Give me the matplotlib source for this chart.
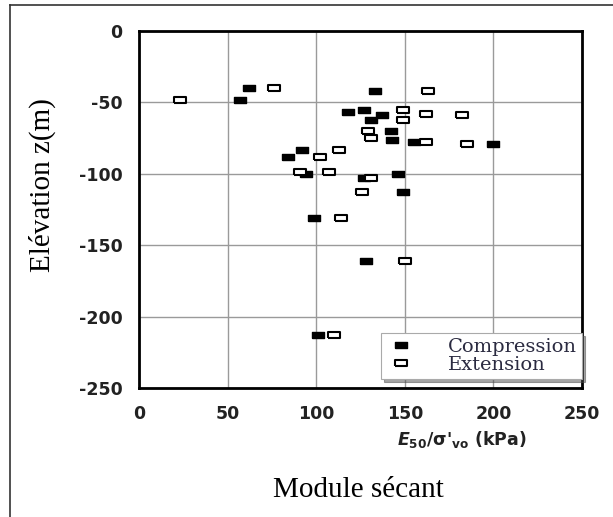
import matplotlib
matplotlib.use("Agg")
import matplotlib.pyplot as plt
from matplotlib.lines import Line2D

# Compression (filled squares)
comp_x = [62, 57, 133, 118, 127, 131, 137, 142, 143, 155, 200, 92, 84, 94, 127, 146, 149, 99, 128, 101]
comp_y = [-40, -48, -42, -57, -55, -62, -59, -70, -76, -78, -79, -83, -88, -100, -103, -100, -113, -131, -161, -213]

# Extension (open squares)
ext_x = [23, 76, 163, 149, 149, 162, 182, 129, 131, 162, 185, 102, 113, 91, 107, 131, 126, 114, 150, 110]
ext_y = [-48, -40, -42, -55, -62, -58, -59, -70, -75, -78, -79, -88, -83, -99, -99, -103, -113, -131, -161, -213]

x_ticks = [0, 50, 100, 150, 200, 250]
y_ticks = [0, -50, -100, -150, -200, -250]

plt.rcParams['axes.unicode_minus'] = False
plt.rcParams['mathtext.fontset'] = 'custom'
plt.rcParams['mathtext.rm'] = 'DejaVu Sans:bold'
plt.rcParams['mathtext.it'] = 'DejaVu Sans:italic:bold'
plt.rcParams['mathtext.bf'] = 'DejaVu Sans:bold'

rect = [(-1, -0.6), (1, -0.6), (1, 0.6), (-1, 0.6), (-1, -0.6)]

fig = plt.figure(figsize=(6.13, 5.17), dpi=100)
ax = fig.add_axes([139 / 613, 1 - 388 / 517, 443 / 613, 357 / 517])

ax.plot(comp_x, comp_y, linestyle='none', marker=rect, markersize=8,
        color='black', markeredgecolor='black', label='Compression', zorder=3)
ax.plot(ext_x, ext_y, linestyle='none', marker=rect, markersize=8,
        markerfacecolor='white', markeredgecolor='black', markeredgewidth=1.5,
        label='Extension', zorder=3)

ax.set_xlim(0, 250)
ax.set_ylim(-250, 0)
ax.set_xticks(x_ticks)
ax.set_yticks(y_ticks)
ax.tick_params(axis='y', length=0, pad=12, labelsize=12.5)
ax.tick_params(axis='x', length=0, pad=12, labelsize=12.5)
for lab in ax.get_xticklabels() + ax.get_yticklabels():
    lab.set_fontfamily('DejaVu Sans')
    lab.set_fontweight('bold')
    lab.set_color('#222222')
ax.grid(True, color='#9a9a9a', linewidth=1)
ax.set_axisbelow(True)
for s in ax.spines.values():
    s.set_linewidth(2)
    s.set_color('black')

leg = ax.legend(loc='lower right', bbox_to_anchor=(1.0, 0.025), borderaxespad=0,
                frameon=True, fancybox=False, shadow=True, handletextpad=1.6,
                borderpad=0.25, labelspacing=0.0, handlelength=1.6,
                prop={'family': 'DejaVu Serif', 'size': 14})
leg.get_frame().set_edgecolor('#aaaaaa')
leg.get_frame().set_linewidth(0.8)
for t in leg.get_texts():
    t.set_color('#2a2a40')

fig.text(462 / 613, 1 - 440 / 517, r"$\mathit{E}_{\mathbf{50}}$/σ'$_{\mathbf{vo}}$ (kPa)",
         ha='center', va='center', fontsize=12.5, family='DejaVu Sans',
         fontweight='bold', color='#222222')
fig.text(358 / 613, 1 - 490 / 517, 'Module sécant', ha='center', va='center',
         fontsize=21, family='Liberation Serif')
fig.text(42 / 613, 1 - 185 / 517, 'Elévation z(m)', ha='center', va='center',
         rotation=90, fontsize=21, family='Liberation Serif')

# cadre partiel de l'image
fig.add_artist(Line2D([10 / 613, 10 / 613], [0, 1 - 5 / 517], transform=fig.transFigure,
                      color='#333333', linewidth=1.2))
fig.add_artist(Line2D([10 / 613, 1], [1 - 5 / 517, 1 - 5 / 517], transform=fig.transFigure,
                      color='#333333', linewidth=1.2))

fig.savefig('out.png', dpi=100)
